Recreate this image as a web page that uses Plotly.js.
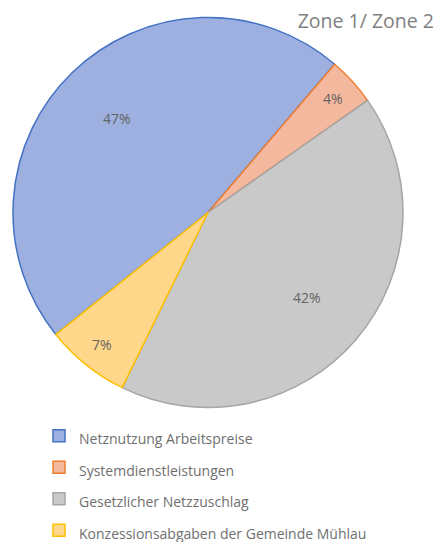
<!DOCTYPE html>
<html>
<head>
<meta charset="utf-8">
<script src="https://cdn.plot.ly/plotly-3.0.1.min.js"></script>
<style>html,body{margin:0;padding:0;background:#fff;}#chart{width:437px;height:542px;}</style>
</head>
<body>
<div id="chart"></div>
<script>
var categories = ["Netznutzung Arbeitspreise", "Systemdienstleistungen", "Gesetzlicher Netzzuschlag", "Konzessionsabgaben der Gemeinde Mühlau"];
var shares = [47, 4, 42, 7];
var fillColors = ["#9db0df", "#f4b89f", "#c9c9c9", "#fed78a"];
var lineColors = ["#4472c4", "#ed7d31", "#a5a5a5", "#ffc000"];
var chartTitle = "Zone 1/ Zone 2";

var W = 437, H = 542;
var legendLabels = categories.map(function (c) { return "<span style='font-size:14px'>" + c + "</span>"; });
var dom = { x: [13 / W, 403 / W], y: [1 - 408 / H, 1 - 17 / H] };

var trace = {
  type: "pie",
  labels: legendLabels,
  values: shares,
  sort: false,
  direction: "clockwise",
  rotation: 231.3,
  marker: { colors: fillColors, line: { color: lineColors, width: 1.5 } },
  textinfo: "none",
  textposition: "none",
  domain: dom,
  hoverinfo: "label+percent"
};

// label positions derived from the pie geometry (margins are 0)
var cx = (dom.x[0] + dom.x[1]) / 2 * W;
var cy = (1 - (dom.y[0] + dom.y[1]) / 2) * H;
var r = Math.min((dom.x[1] - dom.x[0]) * W, (dom.y[1] - dom.y[0]) * H) / 2;
var total = shares.reduce(function (a, b) { return a + b; }, 0);
var ann = [];
var start = trace.rotation;
shares.forEach(function (v) {
  var frac = v / total;
  var mid = (start + frac * 180) * Math.PI / 180;
  start += frac * 360;
  var rf = frac < 0.1 ? 0.87 : 0.67;
  var px = cx + Math.sin(mid) * r * rf;
  var py = cy - Math.cos(mid) * r * rf;
  ann.push({ xref: "paper", yref: "paper", x: px / W, y: 1 - py / H, xanchor: "center", yanchor: "middle",
    text: Math.round(frac * 100) + "%", showarrow: false,
    font: { family: "Open Sans, sans-serif", size: 14, color: "#636363" } });
});

var layout = {
  width: W, height: H,
  margin: { l: 0, r: 0, t: 0, b: 0, autoexpand: false },
  paper_bgcolor: "#ffffff",
  font: { family: "Open Sans, sans-serif", color: "#6f6f6f" },
  title: { text: chartTitle, x: 0.993, xanchor: "right", y: 1 - 21 / H, yanchor: "middle", font: { size: 19.5, color: "#7f7f7f", family: "Open Sans, sans-serif" } },
  showlegend: true,
  legend: { x: 39 / W, xanchor: "left", y: 1 - 415 / H, yanchor: "top", font: { size: 21.9, color: "#6f6f6f" }, bgcolor: "rgba(0,0,0,0)" },
  annotations: ann
};

Plotly.newPlot("chart", [trace], layout, { displayModeBar: false, staticPlot: true });
</script>
</body>
</html>
